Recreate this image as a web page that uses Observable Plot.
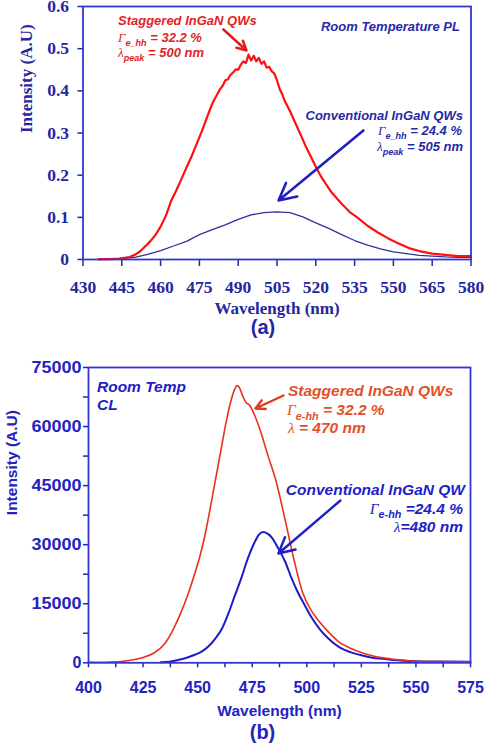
<!DOCTYPE html>
<html><head><meta charset="utf-8">
<script src="https://cdn.jsdelivr.net/npm/d3@7"></script>
<script src="https://cdn.jsdelivr.net/npm/@observablehq/plot@0.6"></script>
<style>body{margin:0;background:#fff;} #a,#b{display:block;width:495px;} svg{display:block}</style>
</head><body><div id="a"></div><div id="b"></div>
<script>
// ---------- (a) Room temperature PL ----------
const plWl = [436,440,444,446,448,450,452,454,456,458,460,462,464,466,468,470,472,474,476,478,480,481,482,483,484,485,486,487,488,489,490,491,492,493,494,495,496,497,498,499,500,501,502,503,504,505,506,507,508,510,512,514,516,518,520,522,524,526,528,530,533,536,540,544,548,552,556,560,565,570,575,580];
const plStaggered = [0.001,0.001,0.002,0.004,0.006,0.011,0.019,0.031,0.043,0.058,0.078,0.103,0.138,0.163,0.19,0.218,0.245,0.275,0.305,0.338,0.37,0.382,0.393,0.404,0.412,0.425,0.427,0.438,0.443,0.451,0.45,0.462,0.47,0.466,0.486,0.472,0.483,0.47,0.478,0.464,0.47,0.455,0.457,0.446,0.441,0.425,0.405,0.392,0.376,0.352,0.325,0.298,0.27,0.245,0.22,0.197,0.178,0.16,0.146,0.132,0.113,0.1,0.08,0.064,0.05,0.038,0.027,0.02,0.014,0.011,0.008,0.008];
const plConvWl = [436,440,445,450,455,460,465,470,475,480,485,490,495,500,505,510,515,520,525,530,535,540,545,550,555,560,565,570,575,580];
const plConventional = [0,0.001,0.002,0.005,0.012,0.021,0.032,0.043,0.059,0.071,0.082,0.095,0.106,0.111,0.113,0.111,0.101,0.087,0.074,0.059,0.045,0.034,0.025,0.018,0.014,0.01,0.008,0.006,0.005,0.005];
const plXTicks = [430,445,460,475,490,505,520,535,550,565,580];
const plYTicks = [0,0.1,0.2,0.3,0.4,0.5,0.6];

// ---------- (b) Room temperature CL ----------
const clWl = [400,405,410,415,420,425,430,435,439,442,445,448,451,453,455,458,461,463,465,467,468,469,470.5,472,474,476,479,482,486,490,494,498,502,506,510,515,520,525,530,535,540,545,550,560,575];
const clStaggered = [200,150,200,350,700,1350,2500,4900,8700,12300,16500,21500,27000,31500,37000,46000,55000,61000,66000,69500,70400,70000,68000,66200,65300,63000,58500,53000,46000,36500,26500,18000,13300,10300,7800,5200,3700,2600,1800,1250,900,600,400,300,250];
const clConvWl = [433,437,441,445,449,452,455,458,461,464,467,470,473,476,478,480,482,484,486,488,490,493,496,499,502,506,510,515,520,525,530,535,540,550,560,575];
const clConventional = [150,300,700,1300,2100,2900,4200,6100,8500,12400,17000,21500,26500,30500,32500,33200,32800,31800,30000,28000,25800,21500,17800,14700,11700,8500,6100,3900,2700,1900,1300,1000,700,400,300,250];
const clXTicks = d3.range(400, 575.1, 12.5);
const clYTicks = d3.range(0, 75001, 7500);
const clYLabels = [0, 15000, 30000, 45000, 60000, 75000];

const pl1 = plWl.map((w,i)=>({w, v: plStaggered[i]}));
const pl2 = plConvWl.map((w,i)=>({w, v: plConventional[i]}));
const cl1 = clWl.map((w,i)=>({w, v: clStaggered[i]}));
const cl2 = clConvWl.map((w,i)=>({w, v: clConventional[i]}));

function addText(svg, sx, sy, spec) {
  const t = d3.select(svg).append("text")
    .attr("x", sx.apply(spec.x)).attr("y", sy.apply(spec.y))
    .attr("text-anchor", spec.anchor || "start")
    .attr("fill", spec.fill)
    .attr("font-family", "'Liberation Sans', Arial, sans-serif")
    .attr("font-weight", "bold").attr("font-style", "italic")
    .attr("font-size", spec.size);
  let shift = 0;
  for (const part of spec.parts) {
    const ts = t.append("tspan").text(part.t);
    const target = part.sub ? spec.size * 0.32 : 0;
    ts.attr("dy", target - shift); shift = target;
    if (part.sub) ts.attr("font-size", spec.size * 0.7);
    if (part.serif) ts.attr("font-family", "'Liberation Serif', serif").attr("font-weight", "normal");
  }
}

// ----- top plot -----
const cTop = "#26269e", lineTop = "#3535d0";
const plotA = Plot.plot({
  width: 495, height: 345,
  marginLeft: 82.5, marginRight: 24.5, marginTop: 6, marginBottom: 86,
  x: {domain: [430, 580]},
  y: {domain: [0, 0.6]},
  style: {background: "white", color: cTop, fontFamily: "'Liberation Serif', 'Times New Roman', serif", fontWeight: "bold", overflow: "visible"},
  marks: [
    Plot.axisX({ticks: plXTicks, tickSize: 7, tickPadding: 14, tickFormat: d => String(d), fontSize: 17.5, fontWeight: "bold", label: null, strokeWidth: 1.5}),
    Plot.axisY({ticks: plYTicks, tickSize: 5, tickPadding: 9, tickFormat: d => d === 0 ? "0" : d.toFixed(1), fontSize: 17.5, fontWeight: "bold", label: null, strokeWidth: 1.5}),
    Plot.line(pl2, {x: "w", y: "v", stroke: "#30309c", strokeWidth: 1.3}),
    Plot.line(pl1, {x: "w", y: "v", stroke: "#ff1010", strokeWidth: 2.2}),
    Plot.frame({stroke: lineTop, strokeWidth: 1.8}),
    Plot.arrow([{x1: 484.3, y1: 0.5455, x2: 493.2, y2: 0.4957}], {x1: "x1", y1: "y1", x2: "x2", y2: "y2", stroke: "#e02020", strokeWidth: 2.6, headLength: 10, headAngle: 55}),
    Plot.arrow([{x1: 538.4, y1: 0.306, x2: 505.6, y2: 0.140}], {x1: "x1", y1: "y1", x2: "x2", y2: "y2", stroke: "#2020c0", strokeWidth: 2.6, headLength: 11, headAngle: 55}),
    Plot.text(["Wavelength (nm)"], {frameAnchor: "bottom", dy: 54, fontSize: 17, fontWeight: "bold", fill: cTop}),
    Plot.text(["(a)"], {frameAnchor: "bottom", dx: -14, dy: 74, fontSize: 20, fontWeight: "bold", fontFamily: "'Liberation Sans', Arial, sans-serif", fill: cTop}),
    Plot.text(["Intensity (A.U)"], {frameAnchor: "left", dx: -56, rotate: -90, fontSize: 17, fontWeight: "bold", fill: cTop})
  ]
});
document.getElementById("a").appendChild(plotA);
{
  const sx = plotA.scale("x"), sy = plotA.scale("y");
  const red = "#e22424", blue = "#2828a8";
  addText(plotA, sx, sy, {x: 443.72, y: 0.555, size: 13, fill: red, parts: [{t: "Staggered InGaN QWs"}]});
  addText(plotA, sx, sy, {x: 443.72, y: 0.5146, size: 13, fill: red, parts: [{t: "Γ", serif: true}, {t: "e_hh", sub: true}, {t: " = 32.2 %"}]});
  addText(plotA, sx, sy, {x: 443.72, y: 0.4802, size: 13, fill: red, parts: [{t: "λ", serif: true}, {t: "peak", sub: true}, {t: " = 500 nm"}]});
  addText(plotA, sx, sy, {x: 575.9, y: 0.5407, anchor: "end", size: 13, fill: blue, parts: [{t: "Room Temperature PL"}]});
  addText(plotA, sx, sy, {x: 577.1, y: 0.3297, anchor: "end", size: 13, fill: blue, parts: [{t: "Conventional InGaN QWs"}]});
  addText(plotA, sx, sy, {x: 576.7, y: 0.2941, anchor: "end", size: 13, fill: blue, parts: [{t: "Γ", serif: true}, {t: "e_hh", sub: true}, {t: " = 24.4 %"}]});
  addText(plotA, sx, sy, {x: 577.1, y: 0.2561, anchor: "end", size: 13, fill: blue, parts: [{t: "λ", serif: true}, {t: "peak", sub: true}, {t: " = 505 nm"}]});
}

// ----- bottom plot -----
const cBot = "#2323c0", lineBot = "#3535d0";
const plotB = Plot.plot({
  width: 495, height: 406,
  marginLeft: 88, marginRight: 25, marginTop: 22, marginBottom: 88.7,
  x: {domain: [400, 575]},
  y: {domain: [0, 75000]},
  style: {background: "white", color: cBot, fontFamily: "'Liberation Sans', Arial, sans-serif", fontWeight: "bold", overflow: "visible"},
  marks: [
    Plot.axisX({ticks: clXTicks, tickSize: 5, tickPadding: 14, tickFormat: d => d % 25 === 0 ? String(d) : "", fontSize: 16, fontWeight: "bold", label: null, strokeWidth: 1.5}),
    Plot.axisY({ticks: clYTicks, tickSize: 5, tickPadding: 3, tickFormat: () => "", fontSize: 16, fontWeight: "bold", label: null, strokeWidth: 1.5}),
    Plot.line(cl2, {x: "w", y: "v", stroke: "#1c1cc4", strokeWidth: 2, curve: "monotone-x"}),
    Plot.line(cl1, {x: "w", y: "v", stroke: "#e8301c", strokeWidth: 1.6, curve: "monotone-x"}),
    Plot.frame({stroke: lineBot, strokeWidth: 1.8}),
    Plot.arrow([{x1: 489.3, y1: 67890, x2: 476.5, y2: 64590}], {x1: "x1", y1: "y1", x2: "x2", y2: "y2", stroke: "#e03a20", strokeWidth: 2.4, headLength: 10, headAngle: 55}),
    Plot.arrow([{x1: 515.4, y1: 41220, x2: 487.0, y2: 27760}], {x1: "x1", y1: "y1", x2: "x2", y2: "y2", stroke: "#2020c8", strokeWidth: 2.4, headLength: 11, headAngle: 55}),
    Plot.text(["Wavelength (nm)"], {frameAnchor: "bottom", dy: 52.7, fontSize: 15.5, fontWeight: "bold", fill: cBot}),
    Plot.text(["(b)"], {frameAnchor: "bottom", dx: -17, dy: 75.7, fontSize: 20, fontWeight: "bold", fill: cBot}),
    Plot.text(["Intensity (A.U)"], {frameAnchor: "left", dx: -76, rotate: -90, fontSize: 15.5, fontWeight: "bold", fill: cBot})
  ]
});
document.getElementById("b").appendChild(plotB);
{
  const sx = plotB.scale("x"), sy = plotB.scale("y");
  // y tick labels of (b): wide bold digits, placed with the plot's own y scale
  const g = d3.select(plotB).append("g")
    .attr("fill", cBot).attr("font-family", "'Liberation Sans', Arial, sans-serif")
    .attr("font-weight", "bold").attr("font-size", 16).attr("text-anchor", "end");
  for (const v of clYLabels) {
    const t = g.append("text")
      .attr("x", sx.apply(400) - 6.5).attr("y", sy.apply(v)).attr("dy", "0.36em")
      .text(String(v));
    if (String(v).length === 5) t.attr("textLength", 50).attr("lengthAdjust", "spacingAndGlyphs");
  }
  const red = "#e2502a", blue = "#1e1ec8";
  addText(plotB, sx, sy, {x: 404.12, y: 68728, size: 15.5, fill: blue, parts: [{t: "Room Temp"}]});
  addText(plotB, sx, sy, {x: 404.12, y: 64079, size: 15.5, fill: blue, parts: [{t: "CL"}]});
  addText(plotB, sx, sy, {x: 491.62, y: 67635, size: 15.5, fill: red, parts: [{t: "Staggered InGaN QWs"}]});
  addText(plotB, sx, sy, {x: 491.16, y: 62808, size: 15.5, fill: red, parts: [{t: "Γ", serif: true}, {t: "e-hh", sub: true}, {t: " = 32.2 %"}]});
  addText(plotB, sx, sy, {x: 491.62, y: 58237, size: 15.5, fill: red, parts: [{t: "λ", serif: true}, {t: " = 470 nm"}]});
  addText(plotB, sx, sy, {x: 572.7, y: 42491, anchor: "end", size: 15.5, fill: blue, parts: [{t: "Conventional InGaN QW"}]});
  addText(plotB, sx, sy, {x: 571.8, y: 37792, anchor: "end", size: 15.5, fill: blue, parts: [{t: "Γ", serif: true}, {t: "e-hh", sub: true}, {t: " =24.4 %"}]});
  addText(plotB, sx, sy, {x: 571.8, y: 33094, anchor: "end", size: 15.5, fill: blue, parts: [{t: "λ", serif: true}, {t: "=480 nm"}]});
}
</script></body></html>
